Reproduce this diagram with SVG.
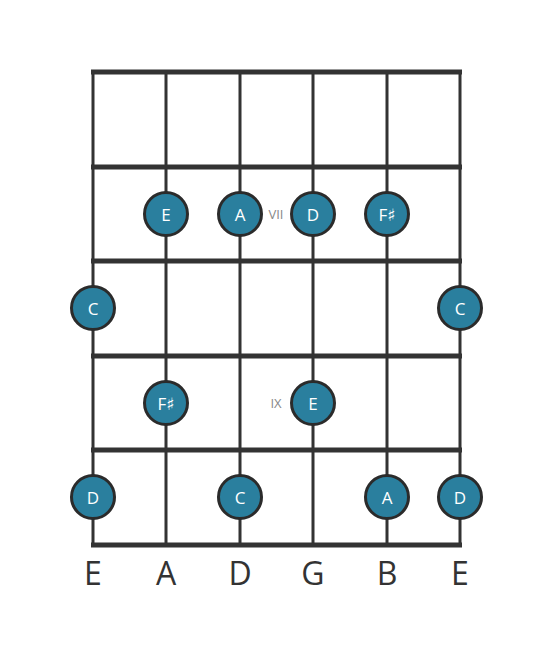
<svg xmlns="http://www.w3.org/2000/svg" width="553" height="656" viewBox="0 0 553 656">
<style>
.str{stroke:#333;stroke-width:3;fill:none}
.fret{stroke:#333;stroke-width:5;fill:none}
.note circle{fill:#2a7f9e;stroke:#2b2b2b;stroke-width:3}
.note text{fill:#fff;font-family:"Open Sans","DejaVu Sans",sans-serif;font-size:17px;text-anchor:middle;dominant-baseline:central}
.lbl{fill:#333;font-family:"Open Sans","DejaVu Sans",sans-serif;font-size:32px;text-anchor:middle;dominant-baseline:central}
.pos{fill:#888;font-family:"Open Sans","DejaVu Sans",sans-serif;font-size:13px;text-anchor:middle;dominant-baseline:central}
</style>
<rect width="553" height="656" fill="#fff"/>
<g id="connectors">
<line class="str" x1="93" y1="72" x2="93" y2="545"/>
<line class="str" x1="166" y1="72" x2="166" y2="545"/>
<line class="str" x1="240" y1="72" x2="240" y2="545"/>
<line class="str" x1="313" y1="72" x2="313" y2="545"/>
<line class="str" x1="387" y1="72" x2="387" y2="545"/>
<line class="str" x1="460" y1="72" x2="460" y2="545"/>
<line class="fret" x1="91" y1="72" x2="462" y2="72"/>
<line class="fret" x1="91" y1="167" x2="462" y2="167"/>
<line class="fret" x1="91" y1="261" x2="462" y2="261"/>
<line class="fret" x1="91" y1="356" x2="462" y2="356"/>
<line class="fret" x1="91" y1="450" x2="462" y2="450"/>
<line class="fret" x1="91" y1="545" x2="462" y2="545"/>
</g>
<g id="pos-VII"><text class="pos" x="276" y="214">VII</text></g>
<g id="pos-IX"><text class="pos" x="276" y="403">IX</text></g>
<g id="n1" class="note"><circle cx="166" cy="214" r="21.5"/><text x="166" y="214">E</text></g>
<g id="n2" class="note"><circle cx="240" cy="214" r="21.5"/><text x="240" y="214">A</text></g>
<g id="n3" class="note"><circle cx="313" cy="214" r="21.5"/><text x="313" y="214">D</text></g>
<g id="n4" class="note"><circle cx="387" cy="214" r="21.5"/><text x="387" y="214">F♯</text></g>
<g id="n5" class="note"><circle cx="93" cy="308" r="21.5"/><text x="93" y="308">C</text></g>
<g id="n6" class="note"><circle cx="460" cy="308" r="21.5"/><text x="460" y="308">C</text></g>
<g id="n7" class="note"><circle cx="166" cy="403" r="21.5"/><text x="166" y="403">F♯</text></g>
<g id="n8" class="note"><circle cx="313" cy="403" r="21.5"/><text x="313" y="403">E</text></g>
<g id="n9" class="note"><circle cx="93" cy="497" r="21.5"/><text x="93" y="497">D</text></g>
<g id="n10" class="note"><circle cx="240" cy="497" r="21.5"/><text x="240" y="497">C</text></g>
<g id="n11" class="note"><circle cx="387" cy="497" r="21.5"/><text x="387" y="497">A</text></g>
<g id="n12" class="note"><circle cx="460" cy="497" r="21.5"/><text x="460" y="497">D</text></g>
<g id="labels">
<text class="lbl" x="93" y="572">E</text>
<text class="lbl" x="166" y="572">A</text>
<text class="lbl" x="240" y="572">D</text>
<text class="lbl" x="313" y="572">G</text>
<text class="lbl" x="387" y="572">B</text>
<text class="lbl" x="460" y="572">E</text>
</g>
</svg>
